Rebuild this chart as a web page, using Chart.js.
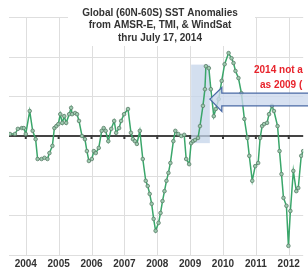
<!DOCTYPE html>
<html>
<head>
<meta charset="utf-8">
<script src="https://cdn.jsdelivr.net/npm/chart.js@4"></script>
<style>
  html, body { margin: 0; background: #fff; overflow: hidden; }
  canvas { display: block; }
</style>
</head>
<body>
<canvas id="sstChart" width="308" height="273"></canvas>
<script>
const titleLines = [
  "Global (60N-60S) SST Anomalies",
  "from AMSR-E, TMI, & WindSat",
  "thru July 17, 2014"
];
const noteLines = ["2014 not a", "as 2009 ("];

// decimal year of each reading
const years = [
  2003.52, 2003.67, 2003.76, 2003.88, 2003.94, 2004.00, 2004.12, 2004.21, 2004.30, 2004.36,
  2004.48, 2004.57, 2004.66, 2004.72, 2004.81, 2004.87, 2004.93, 2004.99, 2005.05, 2005.11,
  2005.17, 2005.23, 2005.32, 2005.38, 2005.41, 2005.50, 2005.56, 2005.62, 2005.71, 2005.80,
  2005.86, 2005.92, 2006.01, 2006.07, 2006.13, 2006.22, 2006.31, 2006.37, 2006.43, 2006.51,
  2006.60, 2006.69, 2006.75, 2006.84, 2006.90, 2006.99, 2007.11, 2007.20, 2007.26, 2007.32,
  2007.38, 2007.47, 2007.56, 2007.65, 2007.71, 2007.77, 2007.83, 2007.89, 2007.95, 2008.04,
  2008.10, 2008.16, 2008.22, 2008.28, 2008.34, 2008.40, 2008.49, 2008.55, 2008.64, 2008.73,
  2008.82, 2008.88, 2008.97, 2009.03, 2009.09, 2009.15, 2009.24, 2009.30, 2009.39, 2009.45,
  2009.48, 2009.57, 2009.63, 2009.72, 2009.78, 2009.87, 2009.96, 2010.05, 2010.17, 2010.26,
  2010.32, 2010.38, 2010.47, 2010.56, 2010.65, 2010.74, 2010.80, 2010.89, 2010.98, 2011.07,
  2011.13, 2011.19, 2011.25, 2011.34, 2011.40, 2011.49, 2011.55, 2011.66, 2011.72, 2011.78,
  2011.84, 2011.93, 2011.99, 2012.05, 2012.14, 2012.23, 2012.29, 2012.38, 2012.44, 2012.53
];
// SST anomaly, deg C
const anomalies = [
  0.005, 0.005, 0.018, 0.020, 0.020, 0.005, 0.063, 0.013, -0.008, -0.058,
  -0.058, -0.055, -0.058, -0.043, -0.025, 0.020, 0.025, 0.030, 0.055, 0.033,
  0.050, 0.033, 0.055, 0.071, 0.055, 0.058, 0.055, 0.038, 0.000, -0.008,
  -0.038, -0.063, -0.058, -0.038, -0.043, -0.030, 0.013, 0.020, 0.013, -0.013,
  0.018, 0.038, 0.008, 0.020, 0.038, 0.055, 0.068, 0.008, -0.008, -0.013,
  -0.020, 0.013, -0.058, -0.113, -0.126, -0.146, -0.171, -0.209, -0.239, -0.219,
  -0.194, -0.164, -0.139, -0.113, -0.093, -0.068, -0.013, 0.013, 0.005, 0.000,
  0.003, -0.058, -0.071, -0.018, -0.013, -0.010, -0.005, 0.025, 0.076, 0.118,
  0.176, 0.171, 0.118, 0.050, 0.068, 0.093, 0.139, 0.181, 0.209, 0.196,
  0.184, 0.164, 0.146, 0.108, 0.043, -0.005, -0.050, -0.113, -0.076, -0.068,
  -0.005, 0.025, 0.030, 0.033, 0.055, 0.076, 0.063, 0.025, -0.038, -0.096,
  -0.156, -0.176, -0.277, -0.189, -0.088, -0.139, -0.131, -0.050, -0.038, -0.010
];
const yearTicks = [2004, 2005, 2006, 2007, 2008, 2009, 2010, 2011, 2012];
const anomalyTicks = [-0.3, -0.2, -0.1, 0, 0.1, 0.2, 0.3];

const points = years.map((yr, i) => ({ x: yr, y: anomalies[i] }));

const overlays = {
  id: "overlays",
  beforeDraw(chart) {
    // gridlines from both scales
    const { ctx, chartArea: a, scales: { x, y } } = chart;
    ctx.save();
    ctx.strokeStyle = "#dedede";
    ctx.lineWidth = 1;
    yearTicks.forEach((yr) => {
      const px = Math.round(x.getPixelForValue(yr)) + 0.5;
      ctx.beginPath();
      ctx.moveTo(px, a.top);
      ctx.lineTo(px, a.bottom);
      ctx.stroke();
    });
    anomalyTicks.forEach((v) => {
      if (v === 0) return;
      const py = Math.round(y.getPixelForValue(v)) + 0.5;
      ctx.beginPath();
      ctx.moveTo(a.left, py);
      ctx.lineTo(a.right, py);
      ctx.stroke();
    });
    // zero line
    const y0 = y.getPixelForValue(0);
    ctx.strokeStyle = "#444";
    ctx.lineWidth = 2;
    ctx.beginPath();
    ctx.moveTo(a.left, y0);
    ctx.lineTo(a.right, y0);
    ctx.stroke();
    ctx.restore();
  },
  beforeDatasetsDraw(chart) {
    const { ctx, scales: { x, y } } = chart;
    ctx.save();
    // shaded 2009 window
    const l = x.getPixelForValue(2009.03);
    const r = x.getPixelForValue(2009.6);
    const t = y.getPixelForValue(0.18);
    const b = y.getPixelForValue(-0.018);
    ctx.fillStyle = "rgba(196,212,234,0.75)";
    ctx.fillRect(l, t, r - l, b - t);
    // tick marks on the zero line
    const y0 = y.getPixelForValue(0);
    ctx.fillStyle = "#3a3a3a";
    yearTicks.forEach((yr) => {
      const px = x.getPixelForValue(yr);
      ctx.fillRect(px - 1, y0 - 1, 2, 4);
    });
    ctx.restore();
  },
  afterDatasetsDraw(chart) {
    const { ctx, scales: { x, y } } = chart;
    ctx.save();
    // arrow pointing back at 2009
    const tipX = x.getPixelForValue(2009.6);
    const tipY = y.getPixelForValue(0.093);
    const headX = tipX + 12;
    const endX = chart.width + 10;
    const sTop = y.getPixelForValue(0.108);
    const sBot = y.getPixelForValue(0.076);
    const hTop = y.getPixelForValue(0.122);
    const hBot = y.getPixelForValue(0.062);
    ctx.beginPath();
    ctx.moveTo(tipX, tipY);
    ctx.lineTo(headX, hTop);
    ctx.lineTo(headX, sTop);
    ctx.lineTo(endX, sTop);
    ctx.lineTo(endX, sBot);
    ctx.lineTo(headX, sBot);
    ctx.lineTo(headX, hBot);
    ctx.closePath();
    ctx.fillStyle = "rgba(205,218,238,0.8)";
    ctx.fill();
    ctx.strokeStyle = "#4a6aa5";
    ctx.lineWidth = 1.3;
    ctx.stroke();

    // red note
    ctx.fillStyle = "#e8232b";
    ctx.font = "bold 10px 'Liberation Sans', Arial, sans-serif";
    ctx.textBaseline = "middle";
    ctx.textAlign = "left";
    ctx.fillText(noteLines[0], 254, 70);
    ctx.fillText(noteLines[1], 260, 85);

    // title box
    ctx.fillStyle = "#fff";
    ctx.fillRect(68, 0, 187, 46);
    ctx.fillStyle = "#333";
    ctx.textAlign = "center";
    titleLines.forEach((line, i) => {
      ctx.fillText(line, 160, 13 + i * 12.5);
    });
    ctx.restore();
  }
};

new Chart(document.getElementById("sstChart"), {
  type: "line",
  data: {
    datasets: [
      {
        data: points,
        borderColor: "#3aa66a",
        borderWidth: 1.5,
        pointRadius: 1.8,
        pointBackgroundColor: "#9ccaae",
        pointBorderColor: "#5c7e6a",
        pointBorderWidth: 0.8,
        tension: 0
      }
    ]
  },
  options: {
    responsive: false,
    animation: false,
    layout: { padding: { left: 9, top: 17, right: 0, bottom: 0 } },
    plugins: {
      legend: { display: false },
      tooltip: { enabled: false }
    },
    scales: {
      x: {
        type: "linear",
        min: 2003.49,
        max: 2012.44,
        afterBuildTicks: (scale) => {
          scale.ticks = yearTicks.map((v) => ({ value: v }));
        },
        ticks: {
          padding: 4,
          color: "#333",
          font: { family: "'Liberation Sans', Arial, sans-serif", size: 10, weight: "bold", lineHeight: 1 },
          maxRotation: 0,
          autoSkip: false,
          callback: (value) => String(value)
        },
        grid: { display: false, drawTicks: false },
        border: { display: false }
      },
      y: {
        display: false,
        min: -0.3,
        max: 0.3
      }
    }
  },
  plugins: [overlays]
});
</script>
</body>
</html>
